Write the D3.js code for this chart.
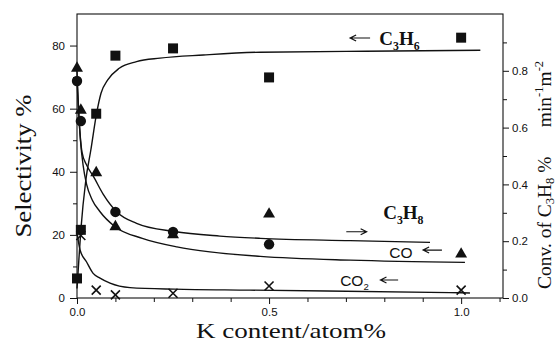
<!DOCTYPE html>
<html>
<head>
<meta charset="utf-8">
<script src="https://cdn.jsdelivr.net/npm/d3@7"></script>
<style>
  html, body { margin: 0; padding: 0; background: #fff; }
  svg { display: block; }
  .tick text { font-family: "Liberation Sans", Arial, sans-serif; font-size: 11.5px; fill: #111; }
</style>
</head>
<body>
<svg id="chart" width="556" height="351"></svg>
<script>
// K content (atom%) at which each catalyst was measured
const kContent = [0.0, 0.01, 0.05, 0.1, 0.25, 0.5, 1.0];

// Selectivities (%), left axis
const c3h6Sel = [6.2, 21.6, 58.4, 76.8, 79.1, 69.9, 82.5];
const coSel   = [72.8, 59.5, 39.7, 22.6, 20.0, 26.6, 13.9];
const co2K    = [0.01, 0.05, 0.1, 0.25, 0.5, 1.0];
const co2Sel  = [19.8, 2.5, 1.0, 1.5, 3.8, 2.5];

// C3H8 conversion (% min^-1 m^-2), right axis
const convK   = [0.0, 0.01, 0.1, 0.25, 0.5];
const c3h8Conv = [0.764, 0.623, 0.303, 0.233, 0.189];

// Fitted trend lines, sampled along K content
const c3h6FitK = [0.0, 0.002, 0.01, 0.023, 0.036, 0.051, 0.0625, 0.08, 0.11, 0.155, 0.216, 0.329, 0.477, 0.75, 1.05];
const c3h6FitV = [3.0, 6.7, 21.5, 37.4, 46.9, 58.5, 64.9, 69.1, 72.8, 74.9, 76.0, 77.0, 77.9, 78.2, 78.5];

const coFitK = [0.0, 0.004, 0.009, 0.016, 0.025, 0.04, 0.059, 0.099, 0.17, 0.26, 0.346, 0.477, 0.711, 1.01];
const coFitV = [72.0, 60.0, 50.0, 42.0, 36.0, 31.0, 27.5, 22.6, 18.9, 16.2, 14.6, 13.2, 12.0, 11.3];

const co2FitK = [0.0, 0.008, 0.025, 0.042, 0.06, 0.086, 0.138, 0.253, 0.45, 0.971, 1.023];
const co2FitV = [20.9, 15.2, 11.4, 7.8, 6.3, 4.7, 3.3, 2.8, 2.5, 1.7, 1.6];

const convFitK = [0.0, 0.004, 0.008, 0.013, 0.025, 0.042, 0.068, 0.103, 0.155, 0.253, 0.372, 0.477, 0.711, 0.919];
const convFitV = [0.764, 0.662, 0.577, 0.514, 0.468, 0.43, 0.366, 0.304, 0.263, 0.234, 0.218, 0.21, 0.202, 0.196];

// Axis ticks
const xMajor = [0.0, 0.5, 1.0];
const xMinor = [0.1, 0.2, 0.3, 0.4, 0.6, 0.7, 0.8, 0.9, 1.1];
const yLMajor = [0, 20, 40, 60, 80];
const yLMinor = [10, 30, 50, 70];
const yRMajor = [0.0, 0.2, 0.4, 0.6, 0.8];
const yRMinor = [0.1, 0.3, 0.5, 0.7, 0.9];

const svg = d3.select("#chart");
svg.append("rect").attr("width", 556).attr("height", 351).attr("fill", "#fff");

const x  = d3.scaleLinear().domain([0, 1.109]).range([77, 503]);
const yL = d3.scaleLinear().domain([0, 90]).range([298, 14]);
const yR = d3.scaleLinear().domain([0, 1.0]).range([298, 14]);

const serif = '"Liberation Serif", "Times New Roman", serif';
const sans = '"Liberation Sans", Arial, sans-serif';

// Axes
function styleAxis(g) {
  g.select(".domain").remove();
  g.selectAll(".tick line").attr("stroke", "#111").attr("stroke-width", 1);
}
svg.append("g").attr("transform", `translate(0,${yL(0)})`)
  .call(d3.axisBottom(x).tickValues(xMajor).tickFormat(d3.format(".1f")).tickSize(6).tickPadding(4))
  .call(styleAxis);
svg.append("g").attr("transform", `translate(0,${yL(0)})`)
  .call(d3.axisBottom(x).tickValues(xMinor).tickFormat("").tickSize(4))
  .call(styleAxis);
svg.append("g").attr("transform", `translate(${x(0)},0)`)
  .call(d3.axisLeft(yL).tickValues(yLMajor).tickFormat(d3.format("d")).tickSize(7).tickPadding(5))
  .call(styleAxis);
svg.append("g").attr("transform", `translate(${x(0)},0)`)
  .call(d3.axisLeft(yL).tickValues(yLMinor).tickFormat("").tickSize(4))
  .call(styleAxis);
svg.append("g").attr("transform", `translate(${x.range()[1]},0)`)
  .call(d3.axisRight(yR).tickValues(yRMajor).tickFormat(d3.format(".1f")).tickSize(6).tickPadding(3))
  .call(styleAxis);
svg.append("g").attr("transform", `translate(${x.range()[1]},0)`)
  .call(d3.axisRight(yR).tickValues(yRMinor).tickFormat("").tickSize(4))
  .call(styleAxis);

// Frame
const [x0, x1] = x.range();
const [yb, yt] = yL.range();
svg.append("rect").attr("x", x0).attr("y", yt).attr("width", x1 - x0).attr("height", yb - yt)
  .attr("fill", "none").attr("stroke", "#111").attr("stroke-width", 1.1);

// Trend lines
const lineL = (ks, vs) => d3.line().curve(d3.curveMonotoneX)(ks.map((k, i) => [x(k), yL(vs[i])]));
const lineR = (ks, vs) => d3.line().curve(d3.curveMonotoneX)(ks.map((k, i) => [x(k), yR(vs[i])]));
const fits = [lineL(c3h6FitK, c3h6FitV), lineL(coFitK, coFitV), lineL(co2FitK, co2FitV), lineR(convFitK, convFitV)];
svg.append("g").selectAll("path").data(fits).join("path")
  .attr("d", d => d).attr("fill", "none").attr("stroke", "#111").attr("stroke-width", 1.4);

// Markers
const pts = svg.append("g").attr("fill", "#111");
pts.selectAll(".sq").data(kContent).join("path")
  .attr("d", d3.symbol(d3.symbolSquare, 100))
  .attr("transform", (d, i) => `translate(${x(d)},${yL(c3h6Sel[i])})`);
pts.selectAll(".ci").data(convK).join("circle")
  .attr("cx", d => x(d)).attr("cy", (d, i) => yR(c3h8Conv[i])).attr("r", 5.2);
pts.selectAll(".tr").data(kContent).join("path")
  .attr("d", d3.symbol(d3.symbolTriangle, 62))
  .attr("transform", (d, i) => `translate(${x(d)},${yL(coSel[i])})`);
const cross = pts.selectAll(".cr").data(co2K).join("g")
  .attr("transform", (d, i) => `translate(${x(d)},${yL(co2Sel[i])})`);
cross.append("path").attr("d", "M-4.5,-4.5L4.5,4.5M-4.5,4.5L4.5,-4.5")
  .attr("stroke", "#111").attr("stroke-width", 1.6).attr("fill", "none");

// Series labels with arrows pointing to their axis
function formula(g, xp, yp, parts, size, weight, family) {
  const t = g.append("text").attr("x", xp).attr("y", yp)
    .attr("font-family", family).attr("font-size", size).attr("font-weight", weight).attr("fill", "#111");
  parts.forEach(p => {
    const s = t.append("tspan").text(p[0]);
    if (p[1] === "sub") s.attr("font-size", size * 0.62).attr("dy", size * 0.28);
    if (p[1] === "back") s.attr("dy", -size * 0.28);
  });
  return t;
}
// Arrow from (k0, v) to (k1, v) on the left-axis value scale; head at the k1 end
function arrow(g, k0, k1, v) {
  const xa = x(k0), xb = x(k1), ya = yL(v);
  const dir = xb > xa ? 1 : -1;
  g.append("path")
    .attr("d", `M${xa},${ya}L${xb},${ya}M${xb - dir * 6},${ya - 3}L${xb},${ya}L${xb - dir * 6},${ya + 3}`)
    .attr("fill", "none").attr("stroke", "#111").attr("stroke-width", 1.2);
}
const ann = svg.append("g");
formula(ann, x(0.787), yL(80.2), [["C"], ["3", "sub"], ["H", "back"], ["6", "sub"]], 19, "bold", serif);
arrow(ann, 0.763, 0.711, 82.4);

formula(ann, x(0.797), yL(25.0), [["C"], ["3", "sub"], ["H", "back"], ["8", "sub"]], 19, "bold", serif);
arrow(ann, 0.701, 0.754, 21.0);

formula(ann, x(0.813), yL(12.8), [["CO"]], 15.5, "normal", sans);
arrow(ann, 0.950, 0.901, 15.2);

formula(ann, x(0.685), yL(3.9), [["CO"], ["2", "sub"]], 15.5, "normal", sans);
arrow(ann, 0.836, 0.790, 5.7);

// Axis titles
svg.append("text").attr("x", 291).attr("y", 338).attr("text-anchor", "middle")
  .attr("font-family", serif).attr("font-size", 22).attr("fill", "#111")
  .attr("textLength", 190).attr("lengthAdjust", "spacingAndGlyphs")
  .text("K content/atom%");

svg.append("text").attr("transform", "translate(31,166) rotate(-90)").attr("text-anchor", "middle")
  .attr("font-family", serif).attr("font-size", 24).attr("fill", "#111")
  .attr("textLength", 143).attr("lengthAdjust", "spacingAndGlyphs")
  .text("Selectivity %");

const rt = svg.append("text").attr("transform", "translate(551,175) rotate(-90)").attr("text-anchor", "middle")
  .attr("font-family", serif).attr("font-size", 19.5).attr("fill", "#111");
rt.append("tspan").text("Conv. of C");
rt.append("tspan").text("3").attr("font-size", 12.5).attr("dy", 3);
rt.append("tspan").text("H").attr("dy", -3);
rt.append("tspan").text("8").attr("font-size", 12.5).attr("dy", 3);
rt.append("tspan").text(" %\u2003\u2002min").attr("dy", -3);
rt.append("tspan").text("-1").attr("font-size", 12.5).attr("dy", -8);
rt.append("tspan").text("m").attr("dy", 8);
rt.append("tspan").text("-2").attr("font-size", 12.5).attr("dy", -8);
</script>
</body>
</html>
